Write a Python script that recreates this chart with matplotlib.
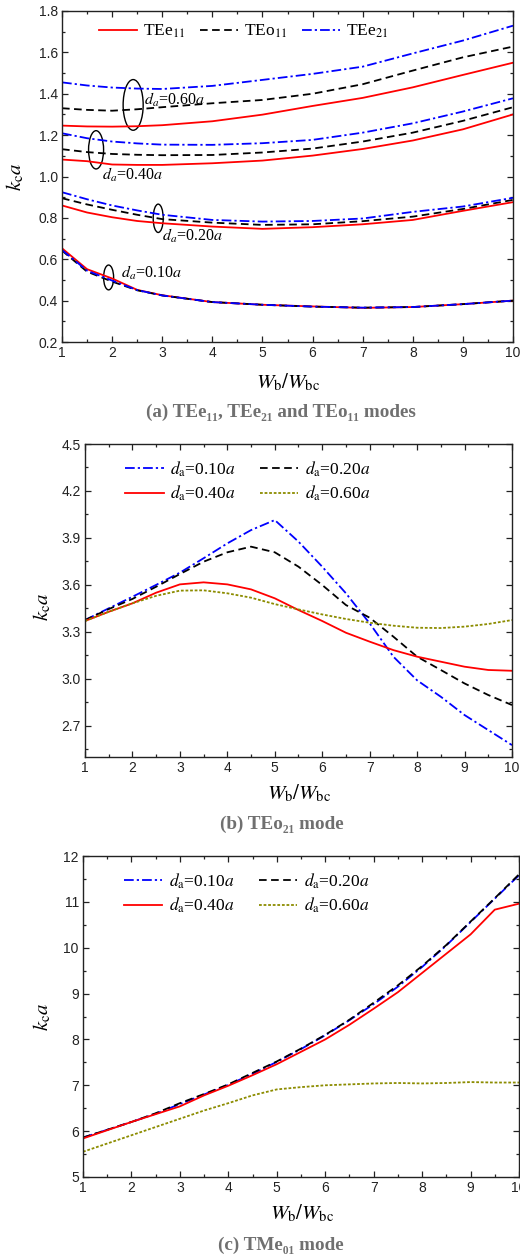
import matplotlib
matplotlib.use("Agg")
import matplotlib.pyplot as plt
from matplotlib.patches import Ellipse
from matplotlib.ticker import MultipleLocator

plt.rcParams['font.family'] = ['Liberation Sans', 'DejaVu Sans']
plt.rcParams['mathtext.fontset'] = 'stix'
plt.rcParams['lines.scale_dashes'] = False

# ---------------- data: panel (a) ----------------
xa = [1, 1.5, 2, 2.5, 3, 4, 5, 6, 7, 8, 9, 10]
# d_a = 0.60a
a60_e21 = [1.455, 1.440, 1.430, 1.425, 1.423, 1.438, 1.467, 1.496, 1.531, 1.595, 1.657, 1.729]
a60_o11 = [1.330, 1.322, 1.318, 1.325, 1.335, 1.354, 1.370, 1.400, 1.446, 1.512, 1.576, 1.628]
a60_e11 = [1.246, 1.242, 1.241, 1.243, 1.248, 1.267, 1.299, 1.341, 1.380, 1.431, 1.491, 1.550]
# d_a = 0.40a
a40_e21 = [1.209, 1.185, 1.169, 1.160, 1.154, 1.153, 1.161, 1.177, 1.212, 1.257, 1.314, 1.378]
a40_o11 = [1.132, 1.118, 1.109, 1.105, 1.103, 1.104, 1.116, 1.135, 1.169, 1.212, 1.269, 1.335]
a40_e11 = [1.082, 1.074, 1.058, 1.056, 1.056, 1.064, 1.077, 1.101, 1.133, 1.174, 1.228, 1.300]
# d_a = 0.20a
a20_e21 = [0.924, 0.890, 0.860, 0.836, 0.815, 0.790, 0.782, 0.785, 0.797, 0.829, 0.855, 0.897]
a20_o11 = [0.895, 0.865, 0.839, 0.815, 0.794, 0.777, 0.766, 0.769, 0.784, 0.806, 0.843, 0.887]
a20_e11 = [0.860, 0.826, 0.803, 0.785, 0.774, 0.758, 0.747, 0.755, 0.769, 0.790, 0.834, 0.876]
# d_a = 0.10a
a10_e11 = [0.653, 0.552, 0.507, 0.452, 0.426, 0.393, 0.380, 0.372, 0.365, 0.369, 0.383, 0.400]
a10_o11 = [0.642, 0.540, 0.492, 0.450, 0.425, 0.393, 0.380, 0.371, 0.366, 0.369, 0.383, 0.400]
a10_e21 = [0.645, 0.545, 0.497, 0.451, 0.425, 0.393, 0.380, 0.371, 0.366, 0.369, 0.383, 0.400]

# ---------------- data: panel (b) TEo21 ----------------
xb = [1, 1.5, 2, 2.5, 3, 3.5, 4, 4.5, 5, 5.5, 6, 6.5, 7, 7.5, 8, 8.5, 9, 9.5, 10]
b10 = [3.375, 3.450, 3.524, 3.600, 3.678, 3.770, 3.865, 3.950, 4.014, 3.876, 3.716, 3.546, 3.354, 3.141, 2.990, 2.885, 2.768, 2.672, 2.576]
b20 = [3.375, 3.445, 3.510, 3.588, 3.669, 3.748, 3.808, 3.844, 3.808, 3.716, 3.599, 3.471, 3.390, 3.269, 3.141, 3.056, 2.970, 2.896, 2.832]
b40 = [3.369, 3.428, 3.482, 3.550, 3.603, 3.616, 3.603, 3.571, 3.514, 3.439, 3.369, 3.294, 3.237, 3.183, 3.141, 3.109, 3.077, 3.056, 3.051]
b60 = [3.369, 3.428, 3.482, 3.530, 3.563, 3.565, 3.546, 3.518, 3.477, 3.443, 3.411, 3.382, 3.358, 3.339, 3.326, 3.324, 3.333, 3.350, 3.375]

# ---------------- data: panel (c) TMe01 ----------------
xc = [1, 1.5, 2, 2.5, 3, 3.5, 4, 4.5, 5, 5.5, 6, 6.5, 7, 7.5, 8, 8.5, 9, 9.5, 10]
c10 = [5.86, 6.03, 6.20, 6.38, 6.59, 6.80, 7.01, 7.25, 7.51, 7.79, 8.09, 8.42, 8.77, 9.15, 9.58, 10.05, 10.56, 11.07, 11.58]
c20 = [5.86, 6.03, 6.20, 6.39, 6.61, 6.81, 7.02, 7.27, 7.52, 7.80, 8.10, 8.43, 8.80, 9.18, 9.60, 10.06, 10.57, 11.08, 11.60]
c40 = [5.84, 6.02, 6.20, 6.37, 6.54, 6.78, 6.99, 7.22, 7.46, 7.73, 8.00, 8.32, 8.67, 9.03, 9.45, 9.87, 10.29, 10.83, 10.96]
c60 = [5.55, 5.73, 5.91, 6.09, 6.27, 6.45, 6.61, 6.78, 6.91, 6.96, 7.00, 7.02, 7.04, 7.05, 7.04, 7.05, 7.07, 7.06, 7.06]

# ---------------- styles ----------------
RED, BLACK, BLUE, OLIVE = '#ff0000', '#000000', '#0000ff', '#8c8c00'
DASH = (0, (5.5, 3.2))
DASHDOT = (0, (7, 2.2, 1.6, 2.2))
DOT = (0, (2.0, 1.3))
LW = 1.3
SERIF = ['Liberation Serif', 'DejaVu Serif']

fig = plt.figure(figsize=(5.20, 12.57), dpi=100)
W, H = 520.0, 1257.0


def make_ax(l, r, t, b):
    return fig.add_axes([l / W, 1 - b / H, (r - l) / W, (b - t) / H])


def style_ax(ax, ymin, ymax, ymaj, ymin_step, yfmt):
    ax.set_xlim(1, 10)
    ax.set_ylim(ymin, ymax)
    ax.xaxis.set_major_locator(MultipleLocator(1))
    ax.xaxis.set_minor_locator(MultipleLocator(0.5))
    ax.yaxis.set_major_locator(MultipleLocator(ymaj))
    ax.yaxis.set_minor_locator(MultipleLocator(ymin_step))
    ax.yaxis.set_major_formatter(plt.FuncFormatter(lambda v, p: yfmt.format(v)))
    ax.tick_params(which='both', direction='in', top=True, right=True,
                   labelsize=10, width=0.9, colors='#222222', pad=3)
    ax.tick_params(which='major', length=4.5)
    ax.tick_params(which='minor', length=2.5)
    for s in ax.spines.values():
        s.set_linewidth(1.0)
        s.set_color('#222222')


# ---------------- panel (a) ----------------
ax = make_ax(62, 513, 11, 342)
series_a = [(a60_e21, a60_o11, a60_e11), (a40_e21, a40_o11, a40_e11),
            (a20_e21, a20_o11, a20_e11), (a10_e21, a10_o11, a10_e11)]
for i, (e21, o11, e11) in enumerate(series_a):
    ax.plot(xa, e11, color=RED, lw=LW, ls='-', label=r'TEe$_{\mathrm{11}}$' if i == 0 else None)
    ax.plot(xa, o11, color=BLACK, lw=LW, ls=DASH, label=r'TEo$_{\mathrm{11}}$' if i == 0 else None)
    ax.plot(xa, e21, color=BLUE, lw=LW, ls=DASHDOT, label=r'TEe$_{\mathrm{21}}$' if i == 0 else None)
style_ax(ax, 0.2, 1.8, 0.2, 0.1, '{:.1f}')
ax.legend(loc='upper left', bbox_to_anchor=(0.058, 0.995), ncol=3, frameon=False,
          prop={'family': SERIF, 'size': 12.5}, handlelength=2.2, handletextpad=0.35,
          columnspacing=0.85, borderaxespad=0.2)
ells = [(2.42, 1.346, 0.40, 0.245), (1.68, 1.129, 0.30, 0.185),
        (2.92, 0.798, 0.20, 0.137), (1.93, 0.512, 0.20, 0.12)]
for cx, cy, w, h in ells:
    ax.add_patch(Ellipse((cx, cy), w, h, fill=False, ec='black', lw=1.0))
ann = [(2.64, 1.37, '0.60'), (1.80, 1.008, '0.40'), (3.00, 0.712, '0.20'), (2.18, 0.532, '0.10')]
for tx, ty, v in ann:
    ax.text(tx, ty, r'$d_{a}$=' + v + r'$a$', fontsize=11.5, family=SERIF, va='center', ha='left')
fig.text(15 / W, 1 - 177 / H, r'$k_{\mathrm{c}}a$', rotation=90, ha='center', va='center', fontsize=15)
fig.text(288 / W, 1 - 382 / H, r'$W_{\mathrm{b}}/W_{\mathrm{bc}}$', ha='center', va='center', fontsize=15)
fig.text(281 / W, 1 - 412 / H, '(a) TEe₁₁, TEe₂₁ and TEo₁₁ modes', ha='center', va='center',
         fontsize=13.8, fontweight='bold', family=SERIF, color='#707070')

# ---------------- panel (b) ----------------
ax = make_ax(85, 512, 444, 757)
h10, = ax.plot(xb, b10, color=BLUE, lw=LW, ls=DASHDOT, label=r'$d_{\mathrm{a}}$=0.10$a$')
h20, = ax.plot(xb, b20, color=BLACK, lw=LW, ls=DASH, label=r'$d_{\mathrm{a}}$=0.20$a$')
h40, = ax.plot(xb, b40, color=RED, lw=LW, ls='-', label=r'$d_{\mathrm{a}}$=0.40$a$')
h60, = ax.plot(xb, b60, color=OLIVE, lw=LW, ls=DOT, label=r'$d_{\mathrm{a}}$=0.60$a$')
style_ax(ax, 2.5, 4.5, 0.3, 0.15, '{:.1f}')
ax.set_yticks([2.7, 3.0, 3.3, 3.6, 3.9, 4.2, 4.5])
ax.legend(handles=[h10, h40, h20, h60], loc='upper left', bbox_to_anchor=(0.07, 0.985), ncol=2,
          frameon=False, prop={'family': SERIF, 'size': 12.5}, handlelength=2.2, handletextpad=0.4,
          columnspacing=1.4, labelspacing=0.3, borderaxespad=0.2)
fig.text(42 / W, 1 - 607 / H, r'$k_{\mathrm{c}}a$', rotation=90, ha='center', va='center', fontsize=15)
fig.text(299 / W, 1 - 793 / H, r'$W_{\mathrm{b}}/W_{\mathrm{bc}}$', ha='center', va='center', fontsize=15)
fig.text(282 / W, 1 - 824 / H, '(b) TEo₂₁ mode', ha='center', va='center',
         fontsize=13.8, fontweight='bold', family=SERIF, color='#707070')

# ---------------- panel (c) ----------------
ax = make_ax(83, 519, 856, 1177)
h10, = ax.plot(xc, c10, color=BLUE, lw=LW, ls=DASHDOT, label=r'$d_{\mathrm{a}}$=0.10$a$')
h20, = ax.plot(xc, c20, color=BLACK, lw=LW, ls=DASH, label=r'$d_{\mathrm{a}}$=0.20$a$')
h40, = ax.plot(xc, c40, color=RED, lw=LW, ls='-', label=r'$d_{\mathrm{a}}$=0.40$a$')
h60, = ax.plot(xc, c60, color=OLIVE, lw=LW, ls=DOT, label=r'$d_{\mathrm{a}}$=0.60$a$')
style_ax(ax, 5, 12, 1, 0.5, '{:.0f}')
ax.legend(handles=[h10, h40, h20, h60], loc='upper left', bbox_to_anchor=(0.07, 0.985), ncol=2,
          frameon=False, prop={'family': SERIF, 'size': 12.5}, handlelength=2.2, handletextpad=0.4,
          columnspacing=1.4, labelspacing=0.3, borderaxespad=0.2)
fig.text(42 / W, 1 - 1017 / H, r'$k_{\mathrm{c}}a$', rotation=90, ha='center', va='center', fontsize=15)
fig.text(302 / W, 1 - 1213 / H, r'$W_{\mathrm{b}}/W_{\mathrm{bc}}$', ha='center', va='center', fontsize=15)
fig.text(281 / W, 1 - 1245 / H, '(c) TMe₀₁ mode', ha='center', va='center',
         fontsize=13.8, fontweight='bold', family=SERIF, color='#707070')

fig.savefig('out.png', dpi=100)
